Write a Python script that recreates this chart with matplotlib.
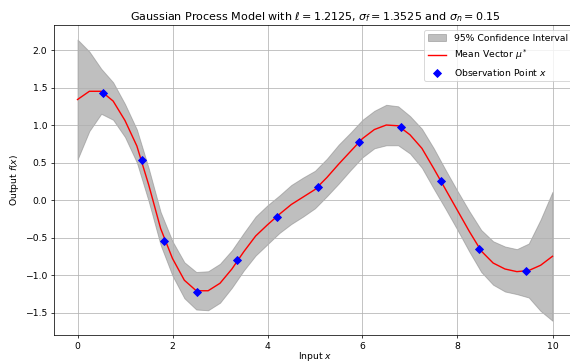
import matplotlib
matplotlib.use("Agg")
import matplotlib.pyplot as plt
import numpy as np

# Prediction grid and GP posterior summary
x_pred = [0.00, 0.25, 0.50, 0.75, 1.00, 1.25, 1.50, 1.75, 2.00, 2.25,
          2.50, 2.75, 3.00, 3.25, 3.50, 3.75, 4.00, 4.25, 4.50, 4.75,
          5.00, 5.25, 5.50, 5.75, 6.00, 6.25, 6.50, 6.75, 7.00, 7.25,
          7.50, 7.75, 8.00, 8.25, 8.50, 8.75, 9.00, 9.25, 9.50, 9.75, 10.00]
mean_pred = [1.34, 1.45, 1.45, 1.32, 1.06, 0.72, 0.20, -0.38, -0.78, -1.07,
             -1.21, -1.21, -1.11, -0.92, -0.69, -0.48, -0.33, -0.19, -0.06, 0.04,
             0.14, 0.30, 0.48, 0.65, 0.82, 0.94, 1.00, 0.99, 0.87, 0.69,
             0.42, 0.14, -0.14, -0.42, -0.68, -0.84, -0.92, -0.955, -0.94, -0.87, -0.75]
ci_half = [0.80, 0.53, 0.30, 0.25, 0.22, 0.22, 0.22, 0.22, 0.23, 0.24,
           0.25, 0.26, 0.26, 0.25, 0.25, 0.26, 0.26, 0.25, 0.26, 0.26,
           0.25, 0.25, 0.26, 0.25, 0.25, 0.25, 0.27, 0.26, 0.25, 0.26,
           0.27, 0.26, 0.26, 0.27, 0.28, 0.29, 0.30, 0.30, 0.36, 0.61, 0.86]

# Training observations
x_obs = [0.54, 1.35, 1.82, 2.51, 3.35, 4.19, 5.06, 5.92, 6.81, 7.66, 8.45, 9.45]
y_obs = [1.43, 0.533, -0.543, -1.23, -0.80, -0.222, 0.169, 0.778, 0.969, 0.253, -0.649, -0.947]

xp = np.array(x_pred)
mu = np.array(mean_pred)
hw = np.array(ci_half)

DPI = 67
fig = plt.figure(figsize=(570 / DPI, 362 / DPI), dpi=DPI)
ax = fig.add_axes([53.75 / 570, 27 / 362, 522.5 / 570, 309.7 / 362])

ax.fill_between(xp, mu - hw, mu + hw, color="gray", alpha=0.5,
                label="95% Confidence Interval")
ax.plot(xp, mu, color="red", label=r"Mean Vector $\mu^*$")
ax.scatter(x_obs, y_obs, color="blue", marker="D", s=36, zorder=3,
           label=r"Observation Point $x$")

ax.set_xlim(-0.5, 10.5)
ax.set_ylim(-1.80, 2.33)
ax.set_xticks([0, 2, 4, 6, 8, 10])
ax.set_yticks([-1.5, -1.0, -0.5, 0.0, 0.5, 1.0, 1.5, 2.0])
ax.grid(True)
ax.set_title(r"Gaussian Process Model with $\ell = 1.2125$, $\sigma_f = 1.3525$ and $\sigma_n = 0.15$")
ax.set_xlabel(r"Input $x$", labelpad=-1)
ax.set_ylabel(r"Output $f(x)$")
ax.legend(loc="upper right")

fig.savefig("out.png", dpi=DPI)
